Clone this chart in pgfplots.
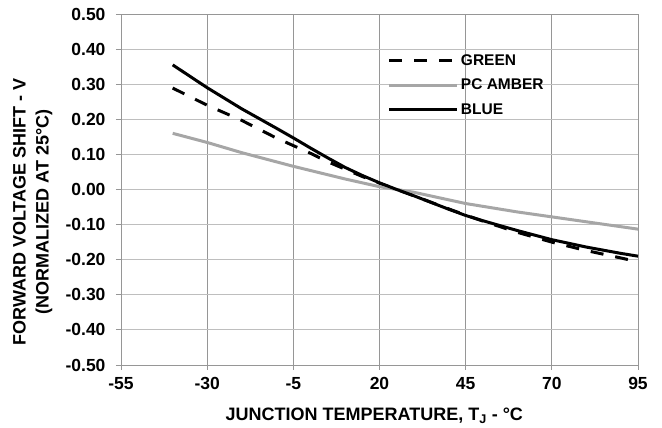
\documentclass[border=0pt]{standalone}
\usepackage{fontspec}
\setmainfont{Liberation Sans}
\usepackage{pgfplots}
\pgfplotsset{compat=1.18}
\definecolor{amber}{RGB}{166,166,166}
\definecolor{vgrid}{RGB}{150,150,150}
\definecolor{hgrid}{RGB}{190,190,190}

\begin{document}
\begin{tikzpicture}
\begin{axis}[
    name=ax,
    width=517bp, height=351bp, scale only axis,
    xmin=-55, xmax=95, ymin=-0.5, ymax=0.5,
    xtick={-55,-30,-5,20,45,70,95},
    xticklabels={-55,-30,-5,20,45,70,95},
    ytick={-0.5,-0.4,-0.3,-0.2,-0.1,0,0.1,0.2,0.3,0.4,0.5},
    yticklabels={-0.50,-0.40,-0.30,-0.20,-0.10,0.00,0.10,0.20,0.30,0.40,0.50},
    grid=major,
    major x grid style={vgrid, line width=0.9bp},
    major y grid style={hgrid, line width=0.9bp},
    axis line style={vgrid, line width=0.9bp},
    tick style={vgrid, line width=0.9bp},
    tick align=outside, major tick length=5bp,
    xtick pos=bottom, ytick pos=left,
    tick label style={font=\fontsize{17.5bp}{21bp}\selectfont\bfseries},
    xticklabel style={yshift=-4bp},
    yticklabel style={xshift=-7bp},
    xlabel={JUNCTION TEMPERATURE, T\textsubscript{J} - °C},
    ylabel={FORWARD VOLTAGE SHIFT - V\\(NORMALIZED AT 25°C)},
    label style={font=\fontsize{18bp}{23bp}\selectfont\bfseries},
    xlabel style={at={(rel axis cs:0.49,0)}, anchor=base, yshift=-56bp},
    ylabel style={align=center, at={(rel axis cs:-0.126,0.436)}, anchor=south},
    legend style={draw=none, fill=none, at={(rel axis cs:0.516,0.89)}, anchor=north west,
        font=\fontsize{15.5bp}{18bp}\selectfont\bfseries, row sep=8bp, inner sep=0pt},
    legend cell align=left,
    legend image code/.code={\draw[#1] (0bp,0bp) -- (68bp,0bp);},
]
\addplot[black, line width=3bp, dash pattern=on 13bp off 12bp] coordinates {
    (-40,0.289) (-30,0.240) (-20,0.197) (-10,0.147) (0,0.103) (5,0.079)
    (10,0.058) (15,0.037) (20,0.018) (25,0.000) (30,-0.018) (40,-0.055)
    (45,-0.073) (50,-0.090) (60,-0.122) (70,-0.150) (80,-0.174) (90,-0.195) (95,-0.206)
};
\addlegendentry{GREEN}
\addplot[amber, line width=3bp] coordinates {
    (-40,0.160) (-30,0.134) (-20,0.105) (-10,0.079) (-5,0.066) (0,0.054)
    (10,0.030) (20,0.008) (25,0.000) (30,-0.008) (45,-0.040) (60,-0.064)
    (70,-0.078) (80,-0.092) (95,-0.113)
};
\addlegendentry{PC AMBER}
\addplot[black, line width=3bp] coordinates {
    (-40,0.355) (-30,0.290) (-20,0.230) (-10,0.175) (-5,0.147) (0,0.118)
    (5,0.090) (10,0.063) (15,0.040) (20,0.019) (25,0.000) (30,-0.018)
    (35,-0.037) (40,-0.056) (45,-0.074) (50,-0.089) (60,-0.117) (70,-0.143)
    (80,-0.164) (90,-0.182) (95,-0.190)
};
\addlegendentry{BLUE}
\end{axis}
\pgfresetboundingbox
\path ([xshift=-121bp,yshift=-63bp]ax.south west) rectangle ([xshift=24bp,yshift=14bp]ax.north east);
\end{tikzpicture}
\end{document}
